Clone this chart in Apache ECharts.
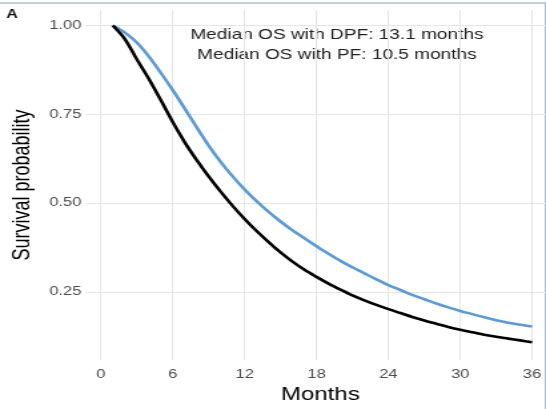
<!DOCTYPE html>
<html><head><meta charset="utf-8">
<script src="https://cdn.jsdelivr.net/npm/echarts@6/dist/echarts.min.js"></script>
<style>
html,body{margin:0;padding:0;background:#fff;overflow:hidden}
#c{width:410px;height:409px;transform:scaleX(1.3317);transform-origin:0 0;}
</style></head><body><div id="c"></div>
<script>
const months = [1,2,3,4,5,6,7,8,9,10,11,12,13,14,15,16,17,18,19,20,21,22,23,24,25,26,27,28,29,30,31,32,33,34,35,36];
const pfSurvival = [1.000,0.962,0.905,0.850,0.790,0.728,0.671,0.621,0.575,0.532,0.492,0.455,0.421,0.390,0.361,0.335,0.312,0.292,0.273,0.256,0.240,0.226,0.213,0.201,0.190,0.179,0.169,0.160,0.151,0.143,0.136,0.129,0.123,0.118,0.113,0.108];
const dpfSurvival = [1.000,0.980,0.952,0.913,0.867,0.818,0.766,0.713,0.662,0.616,0.575,0.538,0.505,0.475,0.448,0.423,0.401,0.378,0.357,0.337,0.319,0.302,0.285,0.269,0.255,0.241,0.229,0.217,0.206,0.196,0.187,0.178,0.170,0.163,0.157,0.152];
const xTicks = [0,6,12,18,24,30,36];
const yTicks = [0.25,0.50,0.75,1.00];
const medianNotes = ['Median OS with DPF: 13.1 months','Median OS with PF: 10.5 months'];
const panelLetter = 'A';

const FONT = "'Liberation Sans', Arial, sans-serif";
const chart = echarts.init(document.getElementById('c'));
const pair = (xs, ys) => xs.map((x, i) => [x, ys[i]]);
chart.setOption({
  animation: false,
  backgroundColor: '#fff',
  grid: {left: 61.6, right: 0, top: 10, bottom: 39, containLabel: false},
  xAxis: {
    type: 'value', min: -1.28, max: 37.16,
    name: 'Months', nameLocation: 'middle', nameGap: 22,
    nameTextStyle: {fontFamily: FONT, fontSize: 18, color: '#000', padding: [0,0,0,7]},
    axisLine: {show: false},
    axisTick: {show: false, customValues: xTicks},
    axisLabel: {customValues: xTicks, margin: 8, fontFamily: FONT, fontSize: 12.5, color: '#4d4d4d'},
    splitLine: {show: true, lineStyle: {color: '#e6e6e6', width: 1}}
  },
  yAxis: {
    type: 'value', min: 0.0575, max: 1.0438,
    name: 'Survival probability', nameLocation: 'middle', nameGap: 31, nameRotate: 90,
    nameTextStyle: {fontFamily: FONT, fontSize: 18, color: '#000'},
    axisLine: {show: false},
    axisTick: {show: false, customValues: yTicks},
    axisLabel: {customValues: yTicks, margin: 3, fontFamily: FONT, fontSize: 12.5, color: '#4d4d4d',
      formatter: v => Number(v).toFixed(2)},
    splitLine: {show: true, lineStyle: {color: '#e6e6e6', width: 1}}
  },
  series: [
    {type: 'line', name: 'DPF', data: pair(months, dpfSurvival), showSymbol: false, smooth: 0.3,
     lineStyle: {color: '#5b9bd5', width: 2.6}, itemStyle: {color: '#5b9bd5'}},
    {type: 'line', name: 'PF', data: pair(months, pfSurvival), showSymbol: false, smooth: 0.3,
     lineStyle: {color: '#000', width: 2.6}, itemStyle: {color: '#000'}}
  ],
  graphic: [
    {type: 'text', x: 253, y: 35, style: {text: medianNotes[0], font: '14.3px ' + FONT, fill: '#222', align: 'center', verticalAlign: 'middle'}},
    {type: 'text', x: 253, y: 55, style: {text: medianNotes[1], font: '14.3px ' + FONT, fill: '#222', align: 'center', verticalAlign: 'middle'}},
    {type: 'text', x: 9, y: 15, style: {text: panelLetter, font: 'bold 12px ' + FONT, fill: '#111', align: 'center', verticalAlign: 'middle'}},
    {type: 'line', shape: {x1: 0, y1: 3, x2: 410, y2: 3}, style: {stroke: '#aabdd0', lineWidth: 1.5}},
    {type: 'line', shape: {x1: 409.5, y1: 3, x2: 409.5, y2: 409}, style: {stroke: '#aabdd0', lineWidth: 1}}
  ]
});
</script></body></html>
